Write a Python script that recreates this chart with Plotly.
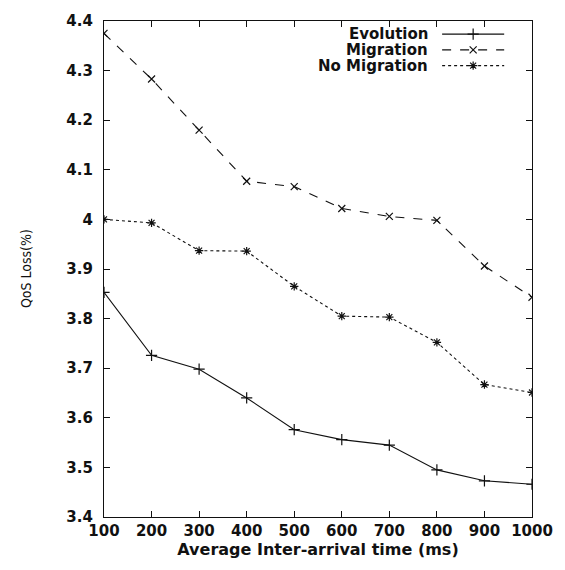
import plotly.graph_objects as go

x_vals = [100, 200, 300, 400, 500, 600, 700, 800, 900, 1000]
evolution = [3.853, 3.726, 3.698, 3.640, 3.576, 3.556, 3.545, 3.495, 3.473, 3.466]
migration = [4.375, 4.283, 4.180, 4.077, 4.066, 4.022, 4.006, 3.998, 3.906, 3.843]
no_migration = [4.000, 3.993, 3.937, 3.936, 3.865, 3.805, 3.803, 3.752, 3.667, 3.651]
series_names = ["Evolution", "Migration", "No Migration"]
y_ticks = [3.4, 3.5, 3.6, 3.7, 3.8, 3.9, 4.0, 4.1, 4.2, 4.3, 4.4]
y_tick_text = ["3.4", "3.5", "3.6", "3.7", "3.8", "3.9", "4", "4.1", "4.2", "4.3", "4.4"]

styles = [
    dict(dash="solid", symbol="cross-thin-open", size=8),
    dict(dash="dash", symbol="x-thin-open", size=7),
    dict(dash="dot", symbol="asterisk-open", size=7),
]
data = [evolution, migration, no_migration]
FONT = "DejaVu Sans, Liberation Sans, Arial"

fig = go.Figure()
for name, ys, st in zip(series_names, data, styles):
    fig.add_trace(go.Scatter(
        x=x_vals, y=ys, name=name, mode="lines+markers",
        line=dict(color="#111", width=1.1, dash=st["dash"]),
        marker=dict(symbol=st["symbol"], size=st["size"], color="#111",
                    line=dict(color="#111", width=1.2)),
        showlegend=False,
    ))

# manual gnuplot-style legend (text right-aligned, sample on the right)
legend_y = [0.9736, 0.9418, 0.910]
for name, st, ly in zip(series_names, styles, legend_y):
    fig.add_annotation(x=0.76, y=ly, xref="paper", yref="paper", text="<b>%s</b>" % name,
                       showarrow=False, xanchor="right", yanchor="middle",
                       borderpad=0, font=dict(family=FONT, size=15, color="#111"))
    fig.add_shape(type="line", xref="paper", yref="paper",
                  x0=0.79, x1=0.935, y0=ly, y1=ly,
                  line=dict(color="#111", width=1.1, dash=st["dash"]))
    fig.add_trace(go.Scatter(
        x=[0.8625], y=[ly], xaxis="x2", yaxis="y2", mode="markers",
        marker=dict(symbol=st["symbol"], size=st["size"], color="#111",
                    line=dict(color="#111", width=1.2)),
        showlegend=False, hoverinfo="skip",
    ))

# y-axis title placed like the reference
fig.add_annotation(x=-0.182, y=0.5, xref="paper", yref="paper", text="QoS Loss(%)",
                   showarrow=False, textangle=-90, xanchor="center", yanchor="middle",
                   font=dict(family="Liberation Sans Narrow, DejaVu Sans Condensed, Liberation Sans",
                             size=14, color="#111"))

axis_common = dict(
    showgrid=False, zeroline=False, showline=True, linecolor="#111", linewidth=1.2,
    mirror="ticks", ticks="inside", ticklen=6, tickcolor="#111",
    tickfont=dict(family=FONT, size=15, color="#111", weight="bold"),
)

fig.update_layout(
    width=565, height=570,
    margin=dict(l=104, r=32, t=14, b=53),
    paper_bgcolor="white", plot_bgcolor="white",
    xaxis=dict(range=[100, 1000], tickvals=x_vals,
               title=dict(text="<b>Average Inter-arrival time (ms)</b>", standoff=4,
                          font=dict(family=FONT, size=16, color="#111")),
               **axis_common),
    yaxis=dict(range=[3.4, 4.4], tickvals=y_ticks, ticktext=y_tick_text,
               ticklabelstandoff=7, **axis_common),
    xaxis2=dict(range=[0, 1], domain=[0, 1], overlaying="x", visible=False, fixedrange=True),
    yaxis2=dict(range=[0, 1], domain=[0, 1], overlaying="y", visible=False, fixedrange=True),
    showlegend=False,
)

fig.write_html("out.html")
